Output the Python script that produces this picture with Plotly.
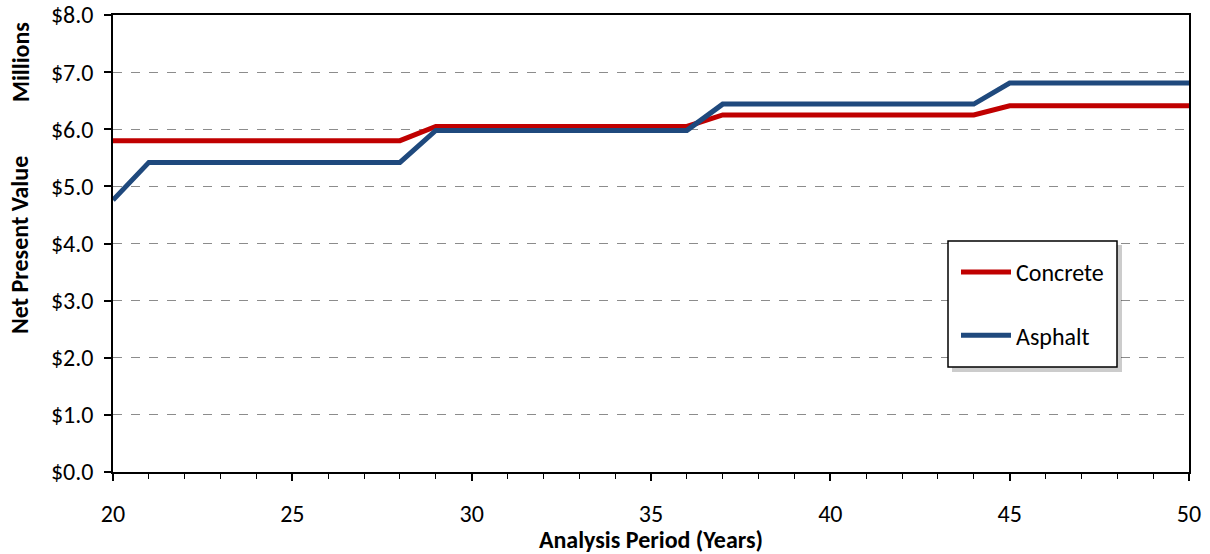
import plotly.graph_objects as go

years = list(range(20, 51))
concrete = [5.80]*9 + [6.05]*8 + [6.25]*8 + [6.41]*6
asphalt = [4.76] + [5.42]*8 + [5.98]*8 + [6.44]*8 + [6.81]*6

series_names = ["Concrete", "Asphalt"]
y_ticks = [0, 1, 2, 3, 4, 5, 6, 7, 8]
y_ticktext = ["$%.1f" % v for v in y_ticks]
x_ticks = [20, 25, 30, 35, 40, 45, 50]

FONT = "Carlito, Calibri, Lato, sans-serif"

fig = go.Figure()
fig.add_trace(go.Scatter(x=years, y=concrete, mode="lines", name=series_names[0],
                         line=dict(color="#C00000", width=5), legendgroup="a"))
fig.add_trace(go.Scatter(x=years, y=asphalt, mode="lines", name=series_names[1],
                         line=dict(color="#1F497D", width=5), legendgroup="b"))

PW, PH = 1076.0, 457.0
lx0, lx1, ly0, ly1 = 948, 1117, 241, 367  # legend box in px
def px_x(p): return (p - 113) / PW
def px_y(p): return (472 - p) / PH

fig.update_layout(
    width=1210, height=554,
    margin=dict(l=113, r=21, t=15, b=82, autoexpand=False),
    paper_bgcolor="white", plot_bgcolor="white",
    font=dict(family=FONT, size=24, color="black"),
    showlegend=True,
    legend=dict(x=px_x(lx0 + 8), y=px_y(ly0 + 9), xanchor="left", yanchor="top",
                bgcolor="rgba(0,0,0,0)", borderwidth=0,
                font=dict(family=FONT, size=24), tracegroupgap=29, itemwidth=50),
    xaxis=dict(range=[20, 50], tickvals=x_ticks, ticks="outside", ticklen=7, tickwidth=1.5,
               tickcolor="black", showline=True, linecolor="black", linewidth=1.5,
               mirror=True, showgrid=False, zeroline=False, automargin=False,
               minor=dict(dtick=1, ticks="outside", ticklen=5, tickwidth=1.2, tickcolor="black"),
               ticklabelstandoff=12, tickfont=dict(size=24),
               title=dict(text="<b>Analysis Period (Years)</b>", font=dict(size=24), standoff=3)),
    yaxis=dict(range=[0, 8], tickvals=y_ticks, ticktext=y_ticktext,
               ticks="outside", ticklen=7, tickwidth=1.5, tickcolor="black",
               showline=True, linecolor="black", linewidth=1.5, mirror=True,
               showgrid=True, gridcolor="#8C8C8C", griddash="dash", gridwidth=1.2,
               zeroline=False, automargin=False, ticklabelstandoff=6, tickfont=dict(size=24)),
)

fig.add_annotation(text="<b>Net Present Value</b>", textangle=-90, xref="paper", yref="paper",
                   x=px_x(20), y=px_y(245), xanchor="center", yanchor="middle", showarrow=False,
                   font=dict(size=24))
fig.add_annotation(text="<b>Millions</b>", textangle=-90, xref="paper", yref="paper",
                   x=px_x(20), y=px_y(62), xanchor="center", yanchor="middle", showarrow=False,
                   font=dict(size=24))

# legend shadow and box
fig.add_shape(type="rect", xref="paper", yref="paper",
              x0=px_x(lx0 + 4), x1=px_x(lx1 + 5), y0=px_y(ly1 + 5), y1=px_y(ly0 + 4),
              fillcolor="rgba(0,0,0,0.2)", line=dict(width=0), layer="above")
fig.add_shape(type="rect", xref="paper", yref="paper",
              x0=px_x(lx0), x1=px_x(lx1), y0=px_y(ly1), y1=px_y(ly0),
              fillcolor="white", line=dict(color="black", width=1.5), layer="above")

fig.write_html("out.html")
